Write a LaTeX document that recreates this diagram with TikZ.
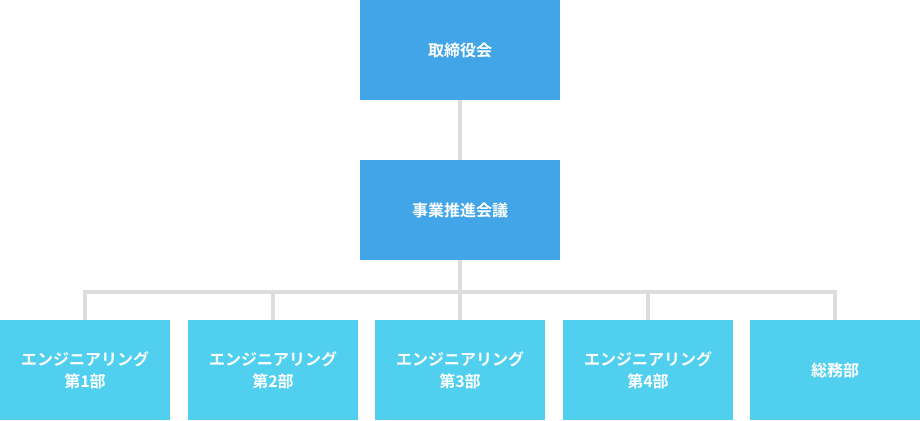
\documentclass[tikz,border=0pt]{standalone}
\usepackage{fontspec}
\newfontfamily\cjk{Noto Sans CJK JP}[BoldFont={Noto Sans CJK JP Bold}]
\definecolor{topblue}{HTML}{42A5E8}
\definecolor{subblue}{HTML}{50CFEF}
\definecolor{linegray}{HTML}{DDDDDD}
\begin{document}
\begin{tikzpicture}[x=1pt, y=-1pt,
  box/.style={fill=topblue, minimum width=200pt, minimum height=100pt, inner sep=0pt,
    text=white, font=\cjk\bfseries\fontsize{16}{22}\selectfont, align=center},
  dept/.style={box, fill=subblue, minimum width=170pt},
  link/.style={linegray, line width=4pt}]
  \useasboundingbox (0,0) rectangle (920,420);
  % Upper levels
  \node[box] (board) at (460,50) {取締役会};
  \node[box] (council) at (460,210) {事業推進会議};
  % Departments
  \node[dept] (eng1) at (85,370) {エンジニアリング\\第1部};
  \node[dept] (eng2) at (273,370) {エンジニアリング\\第2部};
  \node[dept] (eng3) at (460,370) {エンジニアリング\\第3部};
  \node[dept] (eng4) at (648,370) {エンジニアリング\\第4部};
  \node[dept] (admin) at (835,370) {総務部};
  % Connectors
  \coordinate (bus) at (460,292);
  \draw[link] (board.south) -- (council.north);
  \draw[link] (council.south) -- (bus);
  \draw[link] (eng1.north) |- (bus) -| (admin.north);
  \foreach \d in {eng2,eng3,eng4}
    \draw[link] (\d.north) -- (\d.north |- bus);
\end{tikzpicture}
\end{document}
